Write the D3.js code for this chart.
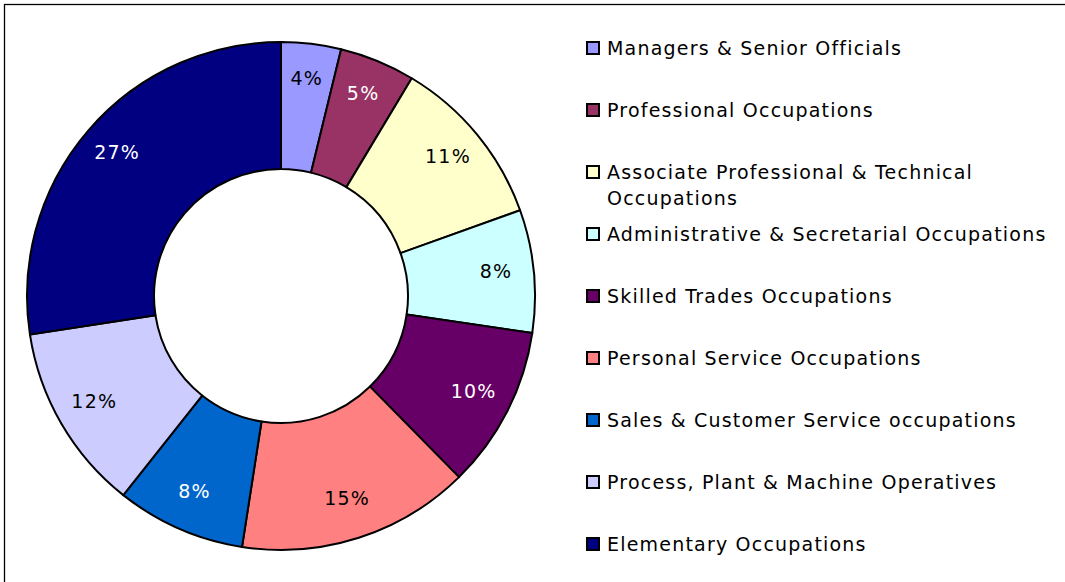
<!DOCTYPE html>
<html>
<head>
  <meta charset="utf-8">
  <title>Occupations donut</title>
  <script src="https://d3js.org/d3.v7.min.js"></script>
  <style>
    body { margin: 0; background: #fff; }
    svg text { font-family: Verdana, "DejaVu Sans", sans-serif; font-size: 19px; letter-spacing: 1.2px; }
  </style>
</head>
<body>
  <svg width="1065" height="582"></svg>
  <script>
    // Data (shares in %)
    const categories = [
      "Managers & Senior Officials",
      "Professional Occupations",
      "Associate Professional & Technical Occupations",
      "Administrative & Secretarial Occupations",
      "Skilled Trades Occupations",
      "Personal Service Occupations",
      "Sales & Customer Service occupations",
      "Process, Plant & Machine Operatives",
      "Elementary Occupations"
    ];
    const values = [3.8, 4.8, 10.9, 7.8, 10.3, 14.8, 8.2, 11.9, 27.4];
    const colors = ["#9999ff", "#993366", "#ffffcc", "#ccffff", "#660066",
                    "#ff8080", "#0066cc", "#ccccff", "#000080"];
    const labelColors = ["#000", "#fff", "#000", "#000", "#fff",
                         "#000", "#fff", "#000", "#fff"];

    const svg = d3.select("svg");

    // chart frame (runs off the right and bottom edge)
    svg.append("rect")
      .attr("x", 4.5).attr("y", 4.5)
      .attr("width", 1100).attr("height", 600)
      .attr("fill", "none")
      .attr("stroke", "#000")
      .attr("stroke-width", 1.3);

    const cx = 281, cy = 296, outerR = 254, innerR = 127;

    const pie = d3.pie().sort(null).value(d => d);
    const arcs = pie(values);
    const total = d3.sum(values);

    const arc = d3.arc().innerRadius(innerR).outerRadius(outerR);
    const labelArc = d3.arc().innerRadius(216).outerRadius(216);

    const g = svg.append("g").attr("transform", `translate(${cx},${cy})`);

    g.selectAll("path.slice")
      .data(arcs)
      .join("path")
      .attr("class", "slice")
      .attr("d", arc)
      .attr("fill", (d, i) => colors[i])
      .attr("stroke", "#000")
      .attr("stroke-width", 2)
      .attr("stroke-linejoin", "round");

    const fmt = d3.format(".0%");
    g.selectAll("text.pct")
      .data(arcs)
      .join("text")
      .attr("class", "pct")
      .attr("transform", d => `translate(${labelArc.centroid(d)})`)
      .attr("text-anchor", "middle")
      .attr("dy", "0.2em")
      .attr("fill", (d, i) => labelColors[i])
      .text(d => fmt(d.value / total));

    // legend
    const legend = svg.append("g").attr("transform", "translate(586,48)");
    const maxW = 445;

    const items = legend.selectAll("g.item")
      .data(categories)
      .join("g")
      .attr("class", "item")
      .attr("transform", (d, i) => `translate(0,${i * 62})`);

    items.append("rect")
      .attr("x", 1).attr("y", -6)
      .attr("width", 12).attr("height", 12)
      .attr("fill", (d, i) => colors[i])
      .attr("stroke", "#000")
      .attr("stroke-width", 2);

    items.append("text")
      .attr("x", 21)
      .attr("fill", "#000")
      .each(function(d) {
        // simple word wrap
        const t = d3.select(this);
        const words = d.split(" ");
        let line = [];
        let tspan = t.append("tspan").attr("x", 21).attr("dy", "0.35em");
        words.forEach(w => {
          line.push(w);
          tspan.text(line.join(" "));
          if (tspan.node().getComputedTextLength() > maxW && line.length > 1) {
            line.pop();
            tspan.text(line.join(" "));
            line = [w];
            tspan = t.append("tspan").attr("x", 21).attr("dy", "26px").text(w);
          }
        });
      });
  </script>
</body>
</html>
